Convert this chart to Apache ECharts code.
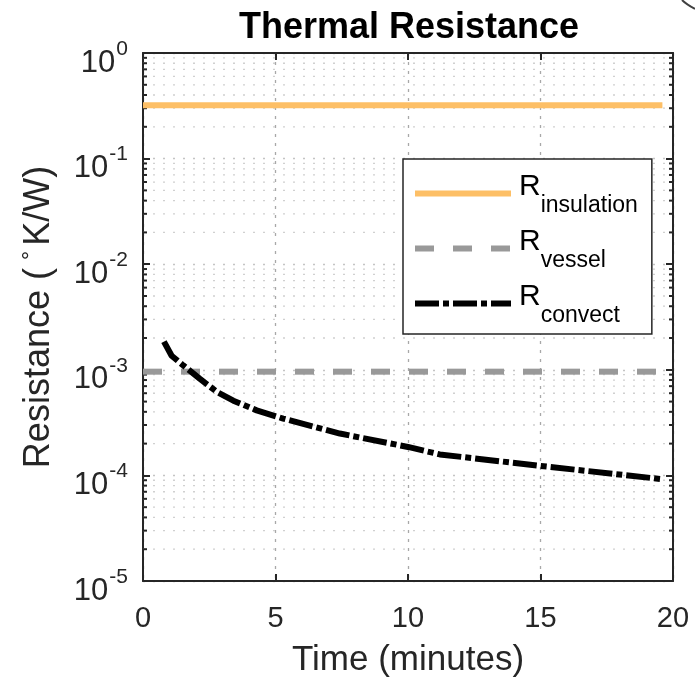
<!DOCTYPE html>
<html>
<head>
<meta charset="utf-8">
<script src="https://cdn.jsdelivr.net/npm/echarts@6/dist/echarts.min.js"></script>
<style>
  html, body { margin: 0; padding: 0; background: #fff; }
  #chart { width: 695px; height: 683px; }
</style>
</head>
<body>
<div id="chart"></div>
<script>
// ---- data ----
const xTicks = [0, 5, 10, 15, 20];
const insulationX = [0, 19.6];
const insulationY = [0.32, 0.32];
const vesselX = [0, 19.6];
const vesselY = [0.00096, 0.00096];
const convectX = [0.79, 1.08, 1.52, 2.15, 2.78, 3.41, 4.29, 5.29, 7.43, 10.0, 11.2, 15.0, 19.6];
const convectY = [1.85e-3, 1.36e-3, 1.10e-3, 8.2e-4, 6.2e-4, 5.1e-4, 4.13e-4, 3.45e-4, 2.49e-4, 1.86e-4, 1.58e-4, 1.23e-4, 9.2e-5];
const legendNames = ['insulation', 'vessel', 'convect'];
const minorValues = [];
for (let e = -5; e < 0; e++) {
  for (let m = 2; m <= 9; m++) minorValues.push(m * Math.pow(10, e));
}

const FONT = "'Liberation Sans', Arial, Helvetica, sans-serif";
const AX = '#262626';

function pairs(xs, ys) { return xs.map((x, i) => [x, ys[i]]); }

const chart = echarts.init(document.getElementById('chart'), null, { renderer: 'canvas' });

const option = {
  backgroundColor: '#ffffff',
  animation: false,
  title: {
    text: 'Thermal Resistance',
    left: 404,
    textAlign: 'center',
    top: 5,
    textStyle: { fontFamily: FONT, fontSize: 36, fontWeight: 'bold', color: '#000' }
  },
  graphic: [
    {
      type: 'bezierCurve', silent: true,
      shape: { x1: 682, y1: 0, cpx1: 686, cpy1: 4, x2: 695, y2: 9 },
      style: { stroke: '#404040', lineWidth: 2, fill: null }
    }
  ],
  grid: { left: 143, right: 22, top: 53, bottom: 100, containLabel: false },
  legend: {
    orient: 'vertical',
    left: 403,
    top: 159,
    padding: [11, 14, 7, 9],
    itemGap: 8,
    itemWidth: 96,
    itemHeight: 14,
    backgroundColor: '#ffffff',
    borderColor: AX,
    borderWidth: 1.5,
    borderRadius: 0,
    itemStyle: { opacity: 0 },
    lineStyle: { width: 6 },
    data: legendNames,
    formatter: function (name) { return '{R|R}{s|' + name + '}'; },
    textStyle: {
      fontFamily: FONT,
      color: '#000',
      rich: {
        R: { fontFamily: FONT, fontSize: 30, lineHeight: 30, padding: [0, 0, 14, 3], color: '#000' },
        s: { fontFamily: FONT, fontSize: 23, lineHeight: 23, padding: [24, 0, 0, 0], color: '#000' }
      }
    }
  },
  xAxis: [
    {
      type: 'value', min: 0, max: 20, interval: 5, position: 'bottom',
      axisLine: { show: true, onZero: false, lineStyle: { color: AX, width: 2 } },
      axisTick: { show: true, inside: true, length: 7, lineStyle: { color: AX, width: 2 } },
      axisLabel: { show: true, margin: 23, fontFamily: FONT, fontSize: 29, color: AX,
        formatter: function (v) { return xTicks.indexOf(v) >= 0 ? String(v) : ''; } },
      splitLine: { show: true, lineStyle: { color: '#a8a8a8', width: 1.3, type: [3, 6] } },
      name: 'Time (minutes)',
      nameLocation: 'middle',
      nameGap: 62,
      nameTextStyle: { fontFamily: FONT, fontSize: 35, color: AX }
    },
    {
      type: 'value', min: 0, max: 20, interval: 5, position: 'top',
      axisLine: { show: true, onZero: false, lineStyle: { color: AX, width: 2 } },
      axisTick: { show: true, inside: true, length: 7, lineStyle: { color: AX, width: 2 } },
      axisLabel: { show: false },
      splitLine: { show: false }
    }
  ],
  yAxis: [
    {
      type: 'log', logBase: 10, min: 1e-5, max: 1, interval: 1, position: 'left',
      axisLine: { show: true, onZero: false, lineStyle: { color: AX, width: 2 } },
      axisTick: { show: true, inside: true, length: 7, lineStyle: { color: AX, width: 2 } },
      axisLabel: {
        show: true, margin: 15, fontFamily: FONT, color: AX,
        formatter: function (v) {
          const e = Math.round(Math.log10(v));
          return '{b|10}{s|' + e + '}';
        },
        rich: {
          b: { fontFamily: FONT, fontSize: 31, lineHeight: 31, padding: [20, 0, 0, 0], color: AX },
          s: { fontFamily: FONT, fontSize: 21, lineHeight: 21, padding: [0, 0, 8, 1], color: AX }
        }
      },
      splitLine: { show: true, lineStyle: { color: '#c4c4c4', width: 1.3, type: [2, 8] } },
      name: 'Resistance ({sup|°}K/W)',
      nameLocation: 'middle',
      nameGap: 84,
      nameRotate: 90,
      nameTextStyle: {
        fontFamily: FONT, fontSize: 36, color: AX,
        rich: {
          sup: { fontFamily: FONT, fontSize: 23, padding: [0, 5, 16, 8], color: AX }
        }
      }
    },
    {
      type: 'log', logBase: 10, min: 1e-5, max: 1, interval: 1, position: 'right',
      axisLine: { show: true, onZero: false, lineStyle: { color: AX, width: 2 } },
      axisTick: { show: true, inside: true, length: 7, lineStyle: { color: AX, width: 2 } },
      axisLabel: { show: false },
      splitLine: { show: false }
    }
  ],
  series: [
    {
      name: 'minor',
      type: 'custom',
      xAxisIndex: 0, yAxisIndex: 0,
      silent: true,
      z: 1,
      data: minorValues.map(v => [0, v]),
      renderItem: function (params, api) {
        const v = api.value(1);
        const p0 = api.coord([0, v]);
        const p1 = api.coord([20, v]);
        return {
          type: 'group',
          children: [
            { type: 'line', shape: { x1: p0[0], y1: p0[1], x2: p1[0], y2: p1[1] },
              style: { stroke: '#d0d0d0', lineWidth: 1.3, lineDash: [2, 8] } },
            { type: 'line', shape: { x1: p0[0], y1: p0[1], x2: p0[0] + 4, y2: p0[1] },
              style: { stroke: AX, lineWidth: 2 } },
            { type: 'line', shape: { x1: p1[0] - 4, y1: p1[1], x2: p1[0], y2: p1[1] },
              style: { stroke: AX, lineWidth: 2 } }
          ]
        };
      }
    },
    {
      name: 'insulation', type: 'line', xAxisIndex: 0, yAxisIndex: 0,
      data: pairs(insulationX, insulationY),
      symbol: 'none', showSymbol: false, z: 3,
      itemStyle: { color: '#FDBF66' },
      lineStyle: { color: '#FDBF66', width: 6 }
    },
    {
      name: 'vessel', type: 'line', xAxisIndex: 0, yAxisIndex: 0,
      data: pairs(vesselX, vesselY),
      symbol: 'none', showSymbol: false, z: 3,
      itemStyle: { color: '#999999' },
      lineStyle: { color: '#999999', width: 6, type: [19, 19] }
    },
    {
      name: 'convect', type: 'line', xAxisIndex: 0, yAxisIndex: 0,
      data: pairs(convectX, convectY),
      symbol: 'none', showSymbol: false, z: 4,
      itemStyle: { color: '#000000' },
      lineStyle: { color: '#000000', width: 6, type: [24, 4, 6, 4] }
    }
  ]
};

chart.setOption(option);
</script>
</body>
</html>
